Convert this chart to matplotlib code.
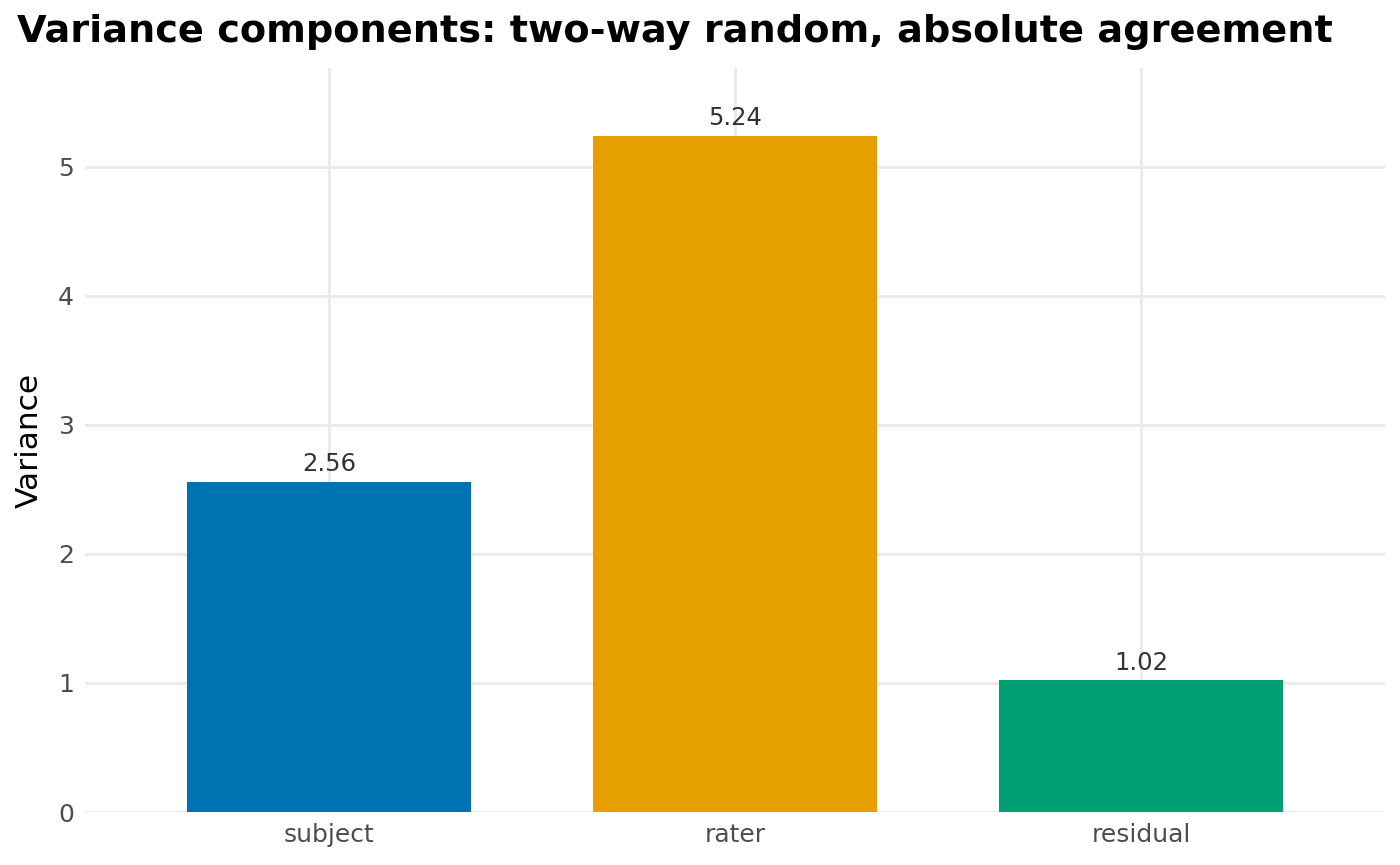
import matplotlib
matplotlib.use("Agg")
import matplotlib.pyplot as plt

categories = ["subject", "rater", "residual"]
variances = [2.56, 5.24, 1.02]
colors = ["#0072B2", "#E69F00", "#009E73"]
yticks = [0, 1, 2, 3, 4, 5]

fig = plt.figure(figsize=(14, 8.65), dpi=100)
ax = fig.add_axes([85/1400, 1-812/865, 1300/1400, (812-68)/865])
x = list(range(len(categories)))
ax.bar(x, variances, width=0.7, color=colors, zorder=3)
for xi, v in zip(x, variances):
    ax.text(xi, v + 0.04, f"{v:.2f}", ha="center", va="bottom", fontsize=17.5, color="#333333", zorder=4)
ax.set_xlim(-0.6, 2.6)
ax.set_ylim(0, 5.764)
ax.set_xticks(x)
ax.set_xticklabels(categories)
ax.set_yticks(yticks)
for s in ax.spines.values():
    s.set_visible(False)
ax.grid(True, color="#EBEBEB", linewidth=2.2, zorder=0)
ax.set_axisbelow(True)
ax.tick_params(length=0, labelsize=18, labelcolor="#4D4D4D", pad=8)
ax.set_ylabel("Variance", fontsize=22.5, color="black", labelpad=10)
fig.text(17/1400, 1-32/865, "Variance components: two-way random, absolute agreement",
         fontsize=27.5, fontweight="bold", ha="left", va="center")
fig.savefig("out.png", dpi=100)
